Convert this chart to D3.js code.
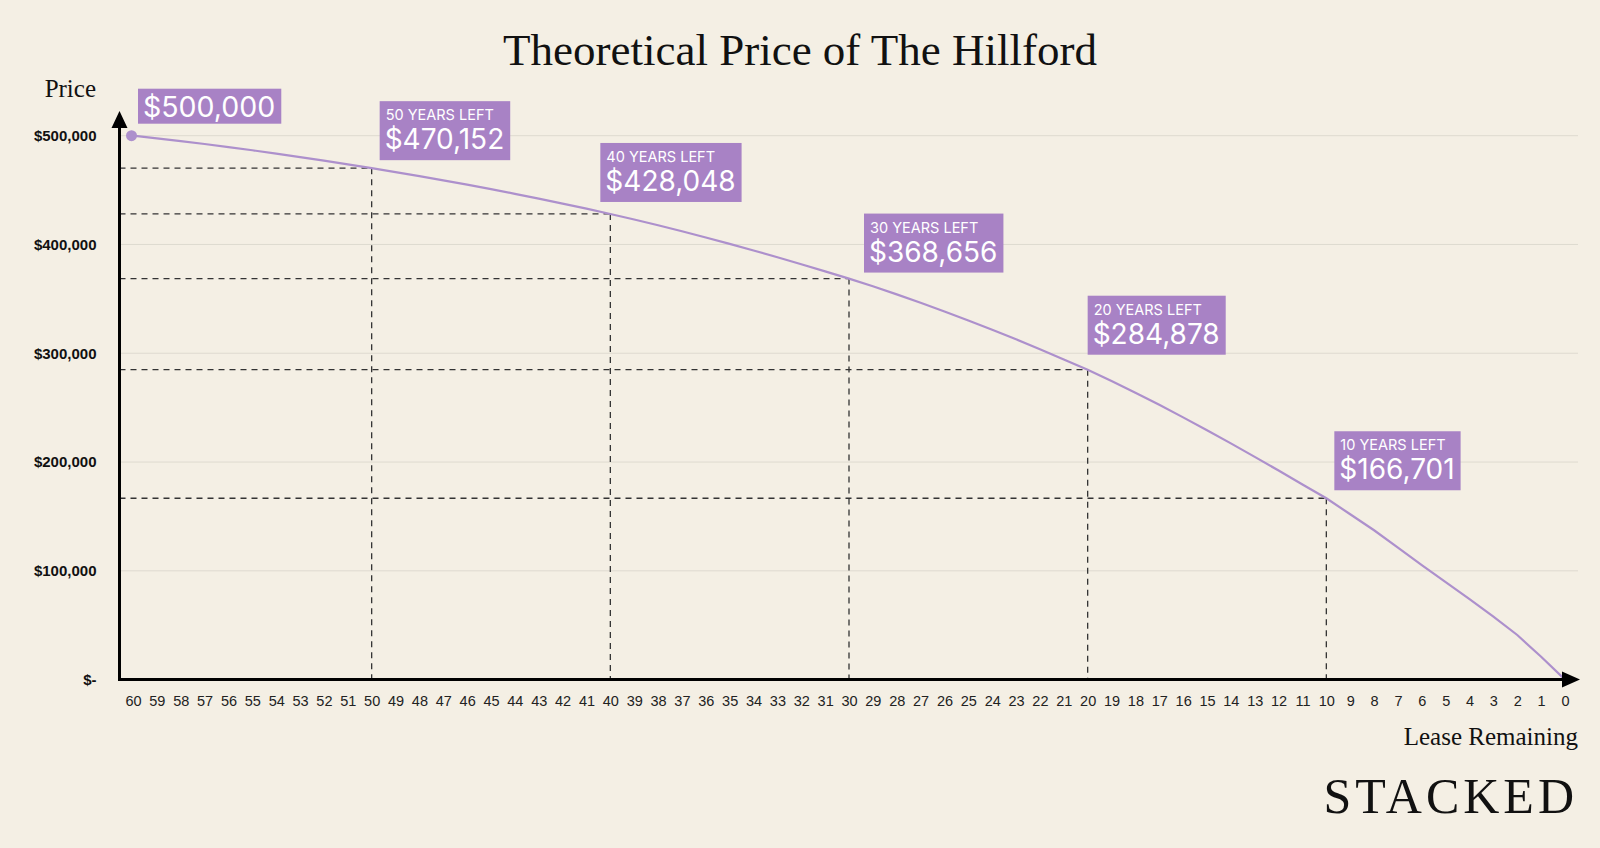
<!DOCTYPE html>
<html>
<head>
<meta charset="utf-8">
<script src="https://cdn.jsdelivr.net/npm/d3@7"></script>
<style>
    html, body { margin: 0; padding: 0; background: #f4efe4; }
    #chart { width: 1600px; height: 848px; }
    .serif { font-family: "Liberation Serif", "DejaVu Serif", serif; fill: #111; }
    .y.axis text { font-family: "Liberation Sans", Arial, sans-serif; font-weight: bold; font-size: 15px; fill: #111; }
    .x.axis text { font-family: "Liberation Sans", Arial, sans-serif; font-size: 14.5px; fill: #222; }
</style>
</head>
<body>
<div id="chart"></div>
<script>
// lease remaining (years) and theoretical price
var years = d3.range(60, -1, -1);
var prices = [
    500000, 497550, 495000, 492350, 489550, 486600, 483550, 480350, 477050, 473650,
    470152, 466552, 462852, 459002, 455002, 450852, 446552, 442152, 437602, 432902,
    428048, 422948, 417648, 412148, 406448, 400548, 394498, 388248, 381848, 375298,
    368656, 361556, 354156, 346456, 338456, 330156, 321656, 312856, 303756, 294356,
    284878, 274478, 263678, 252578, 241078, 229278, 217178, 204778, 192178, 179378,
    166701, 152000, 137300, 121300, 105300, 89600, 74000, 58000, 41000, 21000,
    0
];
var priceTicks = [0, 100000, 200000, 300000, 400000, 500000];
var markerYears = [50, 40, 30, 20, 10];
var markerLabels = ["50 YEARS LEFT", "40 YEARS LEFT", "30 YEARS LEFT", "20 YEARS LEFT", "10 YEARS LEFT"];

var points = years.map(function(d, i) { return { year: d, value: prices[i] }; });
function priceAt(yr) { return prices[years.indexOf(yr)]; }

var purple = "#a882c5";
var fmt = d3.format("$,");

var svg = d3.select("#chart").append("svg")
    .attr("width", 1600)
    .attr("height", 848);

var x = d3.scaleLinear().domain([60, 0]).range([133, 1565]);
var y = d3.scaleLinear().domain([0, 500000]).range([679.6, 135.7]);
var left = 119.5, right = 1578;

// title + axis titles
svg.append("text").attr("class", "serif")
    .attr("x", 800).attr("y", 65)
    .attr("text-anchor", "middle")
    .style("font-size", "45px")
    .text("Theoretical Price of The Hillford");

svg.append("text").attr("class", "serif")
    .attr("x", 96).attr("y", 97)
    .attr("text-anchor", "end")
    .style("font-size", "25px")
    .text("Price");

svg.append("text").attr("class", "serif")
    .attr("x", right).attr("y", 745)
    .attr("text-anchor", "end")
    .style("font-size", "25px")
    .text("Lease Remaining");

svg.append("text").attr("class", "serif")
    .attr("x", right).attr("y", 813)
    .attr("text-anchor", "end")
    .style("font-size", "50px")
    .style("letter-spacing", "4px")
    .text("STACKED");

// gridlines
svg.append("g").selectAll("line")
    .data(priceTicks.filter(function(d) { return d > 0; }))
    .enter().append("line")
    .attr("x1", left).attr("x2", right)
    .attr("y1", function(d) { return y(d); })
    .attr("y2", function(d) { return y(d); })
    .attr("stroke", "#dedacf")
    .attr("stroke-width", 1);

// dashed guides
var guides = svg.append("g")
    .attr("stroke", "#333")
    .attr("stroke-width", 1.3)
    .attr("stroke-dasharray", "6,5");
markerYears.forEach(function(yr) {
    var px = x(yr), py = y(priceAt(yr));
    guides.append("line").attr("x1", left).attr("x2", px).attr("y1", py).attr("y2", py);
    guides.append("line").attr("x1", px).attr("x2", px).attr("y1", py).attr("y2", y(0));
});

// axes (labels only)
var yAxis = svg.append("g").attr("class", "y axis")
    .attr("transform", "translate(" + left + ",0)")
    .call(d3.axisLeft(y)
        .tickValues(priceTicks)
        .tickSize(0)
        .tickPadding(23)
        .tickFormat(function(d) { return d === 0 ? "$-" : fmt(d); }));
yAxis.select(".domain").remove();

var xAxis = svg.append("g").attr("class", "x axis")
    .attr("transform", "translate(0," + y(0) + ")")
    .call(d3.axisBottom(x)
        .tickValues(years)
        .tickSize(0)
        .tickPadding(16)
        .tickFormat(d3.format("d")));
xAxis.select(".domain").remove();

// price line
var line = d3.line()
    .x(function(d) { return x(d.year); })
    .y(function(d) { return y(d.value); });

svg.append("path")
    .datum(points)
    .attr("d", line)
    .attr("fill", "none")
    .attr("stroke", "#ad90cc")
    .attr("stroke-width", 2.2);

svg.append("circle")
    .attr("cx", x(60) - 1.5).attr("cy", y(500000))
    .attr("r", 5.5)
    .attr("fill", "#ad90cc");

// axis lines with arrows
var ax = svg.append("g");
ax.append("line")
    .attr("x1", left).attr("x2", left)
    .attr("y1", y(0) + 1.5).attr("y2", 124)
    .attr("stroke", "#000").attr("stroke-width", 3);
ax.append("path")
    .attr("d", "M" + left + ",111 L" + (left - 8) + ",128 L" + (left + 8) + ",128 Z")
    .attr("fill", "#000");
ax.append("line")
    .attr("x1", left - 1.5).attr("x2", 1566)
    .attr("y1", y(0)).attr("y2", y(0))
    .attr("stroke", "#000").attr("stroke-width", 3);
ax.append("path")
    .attr("d", "M1580," + y(0) + " L1562," + (y(0) - 8) + " L1562," + (y(0) + 8) + " Z")
    .attr("fill", "#000");

// value boxes
var sans = "Inter, 'Noto Sans', sans-serif";
function box(px, bottom, sub, main, bigOnly) {
    var g = svg.append("g");
    var rect = g.append("rect").attr("fill", purple);
    var padL = 5, padR = 6;
    var t1, t2, w;
    if (bigOnly) {
        t2 = g.append("text")
            .attr("x", px + padL).attr("y", bottom - 7)
            .style("font-family", sans)
            .style("font-size", "28.5px")
            .attr("fill", "#fff")
            .text(main);
        w = t2.node().getComputedTextLength();
        rect.attr("x", px).attr("y", bottom - 35).attr("width", w + padL + padR).attr("height", 35);
        return;
    }
    t1 = g.append("text")
        .attr("x", px + padL + 1).attr("y", bottom - 40)
        .style("font-family", sans)
        .style("font-size", "14.5px")
        .attr("fill", "#fff")
        .text(sub);
    t2 = g.append("text")
        .attr("x", px + padL).attr("y", bottom - 11)
        .style("font-family", sans)
        .style("font-size", "28px")
        .attr("fill", "#fff")
        .text(main);
    w = Math.max(t1.node().getComputedTextLength() + 1, t2.node().getComputedTextLength());
    rect.attr("x", px).attr("y", bottom - 59).attr("width", w + padL + padR).attr("height", 59);
}

box(x(60) + 5, y(500000) - 12, null, fmt(500000), true);

var nudge = [[8, -8], [-10, -12], [15, -6], [0, -15], [8, -8]];
markerYears.forEach(function(yr, i) {
    var px = x(yr), py = y(priceAt(yr));
    box(px + nudge[i][0], py + nudge[i][1], markerLabels[i], fmt(priceAt(yr)), false);
});
</script>
</body>
</html>
